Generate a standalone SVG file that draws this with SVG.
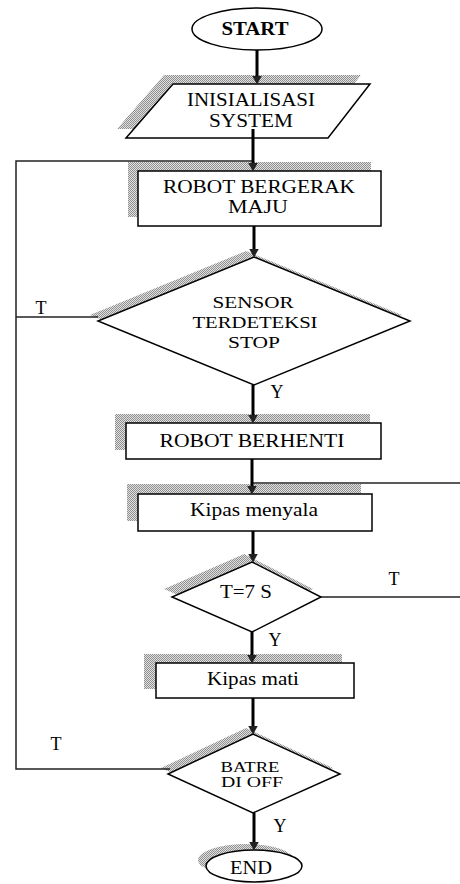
<svg xmlns="http://www.w3.org/2000/svg" width="460" height="884" viewBox="0 0 460 884">
<defs>
<pattern id="dither" width="2" height="2" patternUnits="userSpaceOnUse">
<rect width="2" height="2" fill="#e0e0e0"/>
<rect width="1" height="1" fill="#909090"/>
<rect x="1" y="1" width="1" height="1" fill="#909090"/>
</pattern>
<marker id="arr" markerWidth="9" markerHeight="10" refX="0.5" refY="5" orient="auto" markerUnits="userSpaceOnUse">
<path d="M0,0 L9,5 L0,10 z" fill="#222"/>
</marker>
</defs>
<style>
.shape{fill:#fff;stroke:#000;stroke-width:1.5}
.shadow{fill:url(#dither);stroke:none}
.t{font-family:"Liberation Serif","DejaVu Serif","Times New Roman",Times,serif;font-size:18px;fill:#000;text-anchor:middle}
.s{font-size:17px}
.xs{font-size:14px}
.b{font-weight:bold}
.flow{stroke:#000;stroke-width:3;fill:none}
.loop{stroke:#222;stroke-width:1.5;fill:none}
</style>
<rect width="460" height="884" fill="#fff"/>

<g id="start">
<ellipse class="shape" cx="257" cy="29" rx="65" ry="21"/>
<text class="t b" x="255" y="35" textLength="67" lengthAdjust="spacingAndGlyphs">START</text>
</g>

<g id="inisialisasi">
<polygon class="shadow" points="164,75 361,75 319,129 117,129"/>
<polygon class="shape" points="173,84 370,84 328,138 126,138"/>
<text class="t" x="251" y="106" textLength="128" lengthAdjust="spacingAndGlyphs">INISIALISASI</text>
<text class="t" x="251" y="127" textLength="84" lengthAdjust="spacingAndGlyphs">SYSTEM</text>
</g>

<g id="maju">
<rect class="shadow" x="128" y="162" width="243" height="55"/>
<rect class="shape" x="138" y="171" width="243" height="55"/>
<text class="t" x="259" y="193" textLength="192" lengthAdjust="spacingAndGlyphs">ROBOT BERGERAK</text>
<text class="t" x="258" y="213" textLength="60" lengthAdjust="spacingAndGlyphs">MAJU</text>
</g>

<g id="sensor">
<polygon class="shadow" points="246,251 402,315 246,379 90,315"/>
<polygon class="shape" points="254,257 410,321 254,385 98,321"/>
<text class="t s" x="253" y="308" textLength="81" lengthAdjust="spacingAndGlyphs">SENSOR</text>
<text class="t s" x="255" y="328" textLength="125" lengthAdjust="spacingAndGlyphs">TERDETEKSI</text>
<text class="t s" x="254" y="348" textLength="52" lengthAdjust="spacingAndGlyphs">STOP</text>
</g>

<g id="berhenti">
<rect class="shadow" x="115" y="414" width="255" height="36"/>
<rect class="shape" x="126" y="423" width="255" height="36"/>
<text class="t" x="252" y="447" textLength="185" lengthAdjust="spacingAndGlyphs">ROBOT BERHENTI</text>
</g>

<g id="kipas-menyala">
<rect class="shadow" x="127" y="484" width="234" height="37"/>
<rect class="shape" x="138" y="494" width="234" height="37"/>
<text class="t" x="254" y="516" textLength="128" lengthAdjust="spacingAndGlyphs">Kipas menyala</text>
</g>

<g id="t7s">
<polygon class="shadow" points="244,554 313,589 244,624 164,589"/>
<polygon class="shape" points="252,562 321,597 252,632 172,597"/>
<text class="t" x="246" y="598" textLength="52" lengthAdjust="spacingAndGlyphs">T=7 S</text>
</g>

<g id="kipas-mati">
<rect class="shadow" x="144" y="654" width="198" height="35"/>
<rect class="shape" x="156" y="663" width="198" height="35"/>
<text class="t" x="253" y="685" textLength="92" lengthAdjust="spacingAndGlyphs">Kipas mati</text>
</g>

<g id="batre">
<polygon class="shadow" points="246,728 333,768 246,807 161,768"/>
<polygon class="shape" points="253,734 340,774 253,813 168,774"/>
<text class="t xs" x="250" y="772" textLength="59" lengthAdjust="spacingAndGlyphs">BATRE</text>
<text class="t xs" x="252" y="787" textLength="62" lengthAdjust="spacingAndGlyphs">DI OFF</text>
</g>

<g id="end">
<ellipse class="shadow" cx="246" cy="860" rx="48" ry="16"/>
<ellipse class="shape" cx="254" cy="866" rx="48" ry="16"/>
<text class="t" x="251" y="874" textLength="42" lengthAdjust="spacingAndGlyphs">END</text>
</g>

<g id="connectors">
<path class="loop" d="M170,769 H16 V161 H253"/>
<path class="loop" d="M98,317 H16"/>
<path class="loop" d="M321,597 H460"/>
<path class="loop" d="M460,483 H253"/>
<path class="flow" d="M257,50 V76" marker-end="url(#arr)"/>
<path class="flow" d="M253,129 V163" marker-end="url(#arr)"/>
<path class="flow" d="M254,226 V249" marker-end="url(#arr)"/>
<path class="flow" d="M253,385 V415" marker-end="url(#arr)"/>
<path class="flow" d="M252,459 V486" marker-end="url(#arr)"/>
<path class="flow" d="M253,531 V554" marker-end="url(#arr)"/>
<path class="flow" d="M252,632 V655" marker-end="url(#arr)"/>
<path class="flow" d="M253,698 V726" marker-end="url(#arr)"/>
<path class="flow" d="M254,813 V842" marker-end="url(#arr)"/>
</g>

<g id="labels">
<text class="t" x="41" y="314">T</text>
<text class="t" x="277" y="398">Y</text>
<text class="t" x="394" y="585">T</text>
<text class="t" x="275" y="646">Y</text>
<text class="t" x="56" y="750">T</text>
<text class="t" x="280" y="832">Y</text>
</g>
</svg>
